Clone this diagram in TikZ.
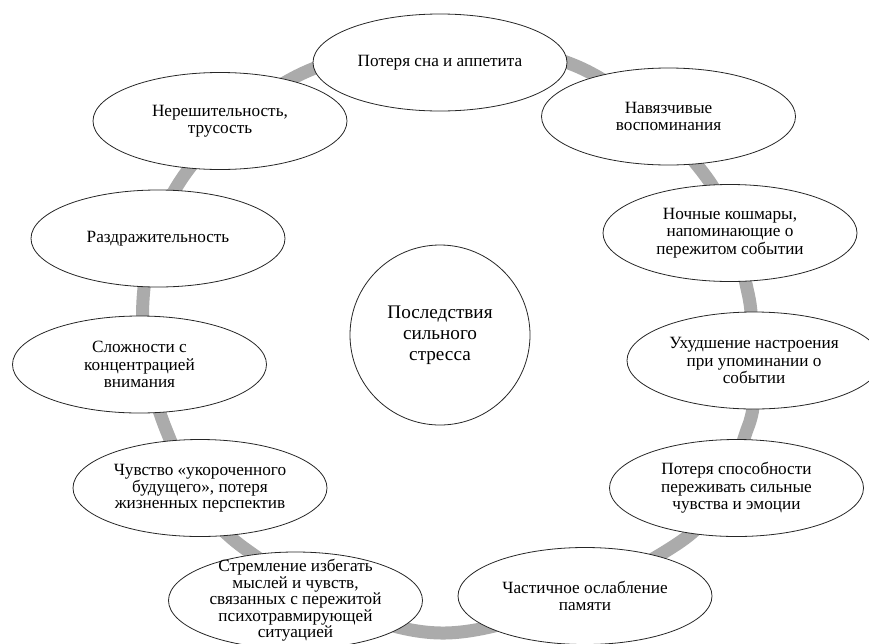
\documentclass[tikz,border=0pt]{standalone}
\usepackage{fontspec}
\setmainfont{Liberation Serif}
\usetikzlibrary{shapes.geometric}
\tikzset{
  bub/.style={ellipse, draw=black!85, line width=0.8pt, fill=white, minimum width=254pt, minimum height=97pt, inner sep=0pt},
  txt/.style={align=center, font=\fontsize{17.2}{17.5}\selectfont, inner sep=0pt},
  ring/.style={draw=black!33, line width=13pt},
  hub/.style={circle, draw=black!85, line width=0.8pt, fill=white, minimum size=180pt, inner sep=0pt, align=center, font=\fontsize{19.2}{21}\selectfont}
}
\begin{document}
\begin{tikzpicture}[x=1pt,y=-1pt]
\useasboundingbox (0,0) rectangle (869,643);
\draw[ring] plot[smooth cycle, tension=0.6] coordinates {(443,46) (587,71) (707,178) (748,293) (749,362) (748,427) (680,542) (445,633) (244,548) (167,432) (143,300) (183,177) (297,76)};
\node[hub] (c) at (440,335) {Последствия\\сильного\\стресса};
\node[bub] (n1) at (440,62.5) {};
\node[txt] at (n1.center) {Потеря сна и аппетита};
\node[bub] (n2) at (668.5,116.5) {};
\node[txt] at (n2.center) {Навязчивые\\воспоминания};
\node[bub] (n3) at (730,233) {};
\node[txt] at (n3.center) {Ночные кошмары,\\напоминающие о\\пережитом событии};
\node[bub] (n4) at (754,360.5) {};
\node[txt] at (n4.center) {Ухудшение настроения\\при упоминании о\\событии};
\node[bub] (n5) at (736.5,488) {};
\node[txt] at (n5.center) {Потеря способности\\переживать сильные\\чувства и эмоции};
\node[bub] (n6) at (585,596) {};
\node[txt] at (n6.center) {Частичное ослабление\\памяти};
\node[bub] (n7) at (295.5,600.5) {};
\node[txt, font=\fontsize{17.2}{14}\selectfont] at (n7.center) {Стремление избегать\\мыслей и чувств,\\связанных с пережитой\\психотравмирующей\\ситуацией};
\node[bub] (n8) at (200,488) {};
\node[txt, font=\fontsize{17.2}{15.5}\selectfont] at (n8.center) {Чувство «укороченного\\будущего», потеря\\жизненных перспектив};
\node[bub] (n9) at (139.5,364.5) {};
\node[txt] at (n9.center) {Сложности с\\концентрацией\\внимания};
\node[bub] (n10) at (158,238.5) {};
\node[txt] at (n10.center) {Раздражительность};
\node[bub] (n11) at (220,121) {};
\node[txt] at (n11.center) {Нерешительность,\\трусость};
\end{tikzpicture}
\end{document}
